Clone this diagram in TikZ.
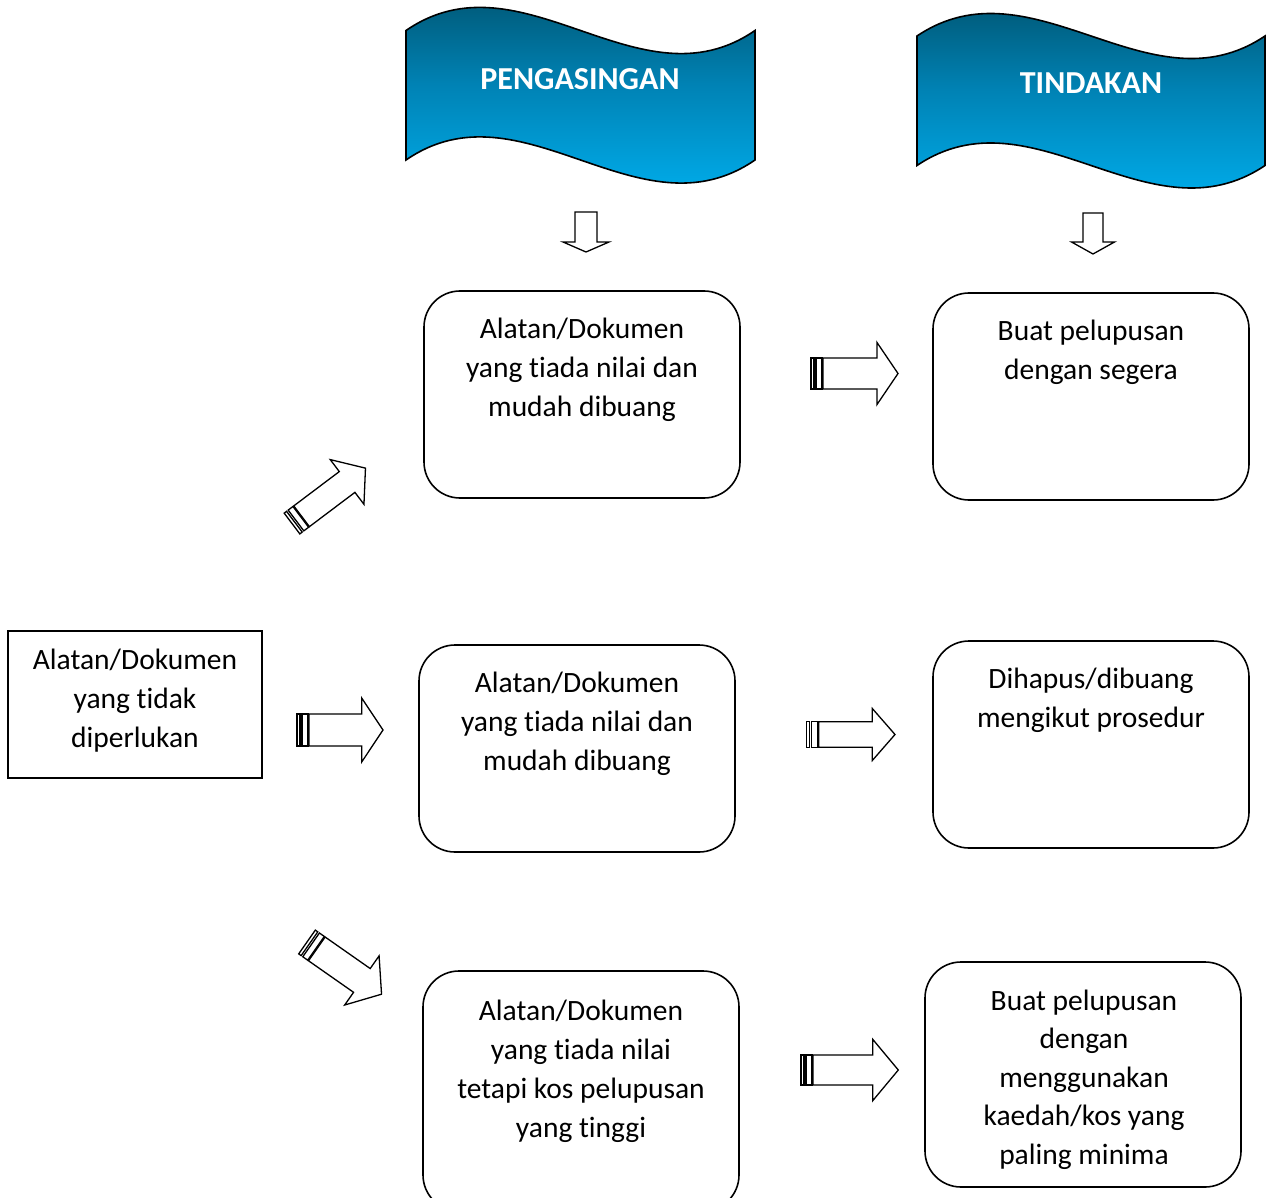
\documentclass[tikz,border=0pt]{standalone}
\usepackage{fontspec}
\setmainfont{Carlito}[Ligatures=NoCommon]
\definecolor{bantop}{RGB}{0,76,104}
\definecolor{banup}{RGB}{0,92,124}
\definecolor{banmid}{RGB}{0,130,180}
\definecolor{banbot}{RGB}{0,178,242}
\pgfdeclareverticalshading{banshade}{100bp}{color(0bp)=(banbot); color(30bp)=(banbot); color(52bp)=(banmid); color(66bp)=(banup); color(75bp)=(bantop); color(100bp)=(bantop)}
\newcommand\StripedArr[6]{%
\begin{scope}[shift={#1}, rotate=#2]
 \draw[arrline] (0,-#4) rectangle (3,#4);
 \draw[arrline] (5,-#4) rectangle (11,#4);
 \draw[arrline] (12,-#4) -- ({#3-#6},-#4) -- ({#3-#6},-#5) -- (#3,0) -- ({#3-#6},#5) -- ({#3-#6},#4) -- (12,#4) -- cycle;
\end{scope}}
\newcommand\DownArr[6]{% center x, top y, shaft half, head half, head base y, tip y
 \draw[arrline] ({#1-#3},#2) -- ({#1+#3},#2) -- ({#1+#3},#5) -- ({#1+#4},#5) -- (#1,#6) -- ({#1-#4},#5) -- ({#1-#3},#5) -- cycle;}
\begin{document}
\begin{tikzpicture}[x=1pt,y=-1pt,
  arrline/.style={draw=black, line width=1.3pt, fill=white, line join=miter},
  rbox/.style={draw=black, line width=1.6pt, rounded corners=36pt, minimum width=316pt, inner sep=0pt},
  sbox/.style={draw=black, line width=1.6pt, minimum width=254pt, minimum height=147pt, inner sep=0pt},
  txt/.style={font=\fontsize{29.5}{39}\selectfont, align=center, inner sep=0pt, anchor=north},
  ttl/.style={font=\fontsize{32}{38}\selectfont\bfseries, text=white, inner sep=0pt, anchor=base},
  banner/.style={shading=banshade, draw=black, line width=1.6pt}]
\useasboundingbox (0,0) rectangle (1266,1198);
\clip (0,0) rectangle (1266,1198);

% banners
\path[banner] (406,30.5) .. controls (522.3,-49.5) and (638.7,110.5) .. (755,30.5)
  -- (755,160) .. controls (638.7,240) and (522.3,80) .. (406,160) -- cycle;
\path[banner] (917,36) .. controls (1033,-42) and (1149,114) .. (1265,36)
  -- (1265,165.5) .. controls (1149,243.5) and (1033,87.5) .. (917,165.5) -- cycle;
\node[ttl] (h1) at (580,89.5) {PENGASINGAN};
\node[ttl] (h2) at (1091,94) {TINDAKAN};

% down arrows
\DownArr{586}{212}{11}{23}{242}{252}
\DownArr{1093}{213}{10}{21.5}{242}{254}

% boxes
\node[rbox, minimum height=207pt] (b1) at (582,394.5) {};
\node[rbox, minimum height=207pt] (b2) at (1091,396.5) {};
\node[rbox, minimum height=207pt] (b3) at (577,748.5) {};
\node[rbox, minimum height=207pt] (b4) at (1091,744.5) {};
\node[rbox, minimum height=240pt] (b5) at (581,1091) {};
\node[rbox, minimum height=225pt] (b6) at (1083,1074.5) {};
\node[sbox] (b0) at (135,704.5) {};

\node[txt] (t1) at (582,310.7) {\strut Alatan/Dokumen\\yang tiada nilai dan\\mudah dibuang};
\node[txt] (t2) at (1091,312.7) {\strut Buat pelupusan\\dengan segera};
\node[txt] (t3) at (577,664.7) {\strut Alatan/Dokumen\\yang tiada nilai dan\\mudah dibuang};
\node[txt] (t4) at (1091,660.7) {\strut Dihapus/dibuang\\mengikut prosedur};
\node[txt] (t5) at (581,992.7) {\strut Alatan/Dokumen\\yang tiada nilai\\tetapi kos pelupusan\\yang tinggi};
\node[txt, font=\fontsize{29.5}{38.5}\selectfont] (t6) at (1084,983.2) {\strut Buat pelupusan\\dengan\\menggunakan\\kaedah/kos yang\\paling minima};
\node[txt] (t0) at (135,641.7) {\strut Alatan/Dokumen\\yang tidak\\diperlukan};

% striped block arrows
\StripedArr{(292,523.5)}{37}{92}{13}{28}{23}
\StripedArr{(297,730)}{0}{86}{16}{32}{21.3}
\StripedArr{(307,942)}{-35}{91}{14.5}{30}{24}
\StripedArr{(811,373.5)}{0}{87}{15.5}{31}{21}
\StripedArr{(806.7,734.5)}{0}{88.3}{12.8}{26}{22.7}
\StripedArr{(801,1070)}{0}{97.3}{15}{30.7}{25.6}
\end{tikzpicture}
\end{document}
